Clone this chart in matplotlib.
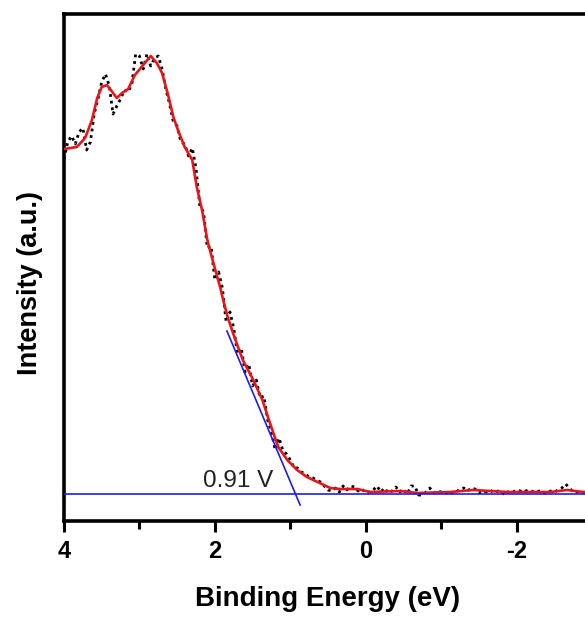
import numpy as np
import matplotlib
matplotlib.use('Agg')
import matplotlib.pyplot as plt
from matplotlib.ticker import MultipleLocator

plt.rcParams['font.family'] = ['Liberation Sans', 'DejaVu Sans']
plt.rcParams['axes.unicode_minus'] = False

# --------- data (binding energy in eV, intensity in arbitrary units) ---------
raw_energy = np.linspace(4.0, -2.95, 140)
raw_intensity = [
    335, 352, 358, 350, 362, 366, 344, 352, 380, 395,
    412, 420, 408, 380, 388, 395, 404, 402, 410, 440,
    438, 425, 440, 428, 436, 438, 425, 405, 390, 372,
    368, 352, 350, 338, 346, 326, 288, 282, 246, 248,
    214, 222, 206, 172, 182, 166, 140, 146, 122, 130,
    108, 114, 96, 98, 74, 62, 44, 56, 44, 40,
    34, 26, 26, 22, 20, 17, 16, 14, 12, 8,
    4, 3, 6, 2, 8, 4, 8, 7, 3, 5,
    1, 2, 4, 8, 2, 6, 1, 3, 7, 2,
    5, 0, 8, 8, -1, -1, 2, 6, 1, 3,
    2, 0, 3, 1, 2, 5, 6, 3, 6, 5,
    1, 3, 2, 4, 1, 3, 2, -1, 3, 2,
    4, 3, 2, 4, 3, 1, 3, 2, 0, 3,
    2, 4, 6, 10, 6, 2, 2, 3, 1, 2,
]

smooth_energy = [4.00, 3.83, 3.72, 3.63, 3.56, 3.50, 3.43, 3.36, 3.30, 3.23,
                 3.15, 3.06, 2.95, 2.85, 2.77, 2.70, 2.62, 2.55, 2.49, 2.40,
                 2.30, 2.24, 2.17, 2.10, 2.02, 1.93, 1.89, 1.83, 1.76, 1.63,
                 1.49, 1.37, 1.27, 1.16, 1.04, 0.91, 0.78, 0.61, 0.47, 0.34,
                 0.11, -0.06, -0.46, -0.68, -1.12, -1.42, -1.88, -2.45, -2.67, -2.88,
                 -2.95]
smooth_intensity = [345, 347, 356, 374, 396, 407, 409, 402, 396, 401,
                    405, 419, 429, 438, 431, 421, 399, 377, 364, 347,
                    334, 307, 284, 254, 231, 207, 194, 177, 161, 134,
                    114, 94, 71, 47, 34, 24, 17, 11, 6, 5,
                    5, 2, 3, 1, 2, 4, 2, 2, 4, 2,
                    2]

# linear fit of the leading edge and the background level
tangent_energy = [1.84, 0.87]
tangent_intensity = [163, -11]
baseline_level = 0
onset_label = '0.91 V'

# --------- figure ---------
fig = plt.figure(figsize=(5.85, 6.17), dpi=100)
ax = fig.add_axes([64 / 585, 96 / 617, 528 / 585, 507 / 617])

ax.plot(raw_energy, raw_intensity, color='black', linestyle=(0, (1, 1.4)),
        linewidth=2.0, zorder=2)
ax.plot(smooth_energy, smooth_intensity, color='#e8161b', linewidth=1.9, zorder=3)
ax.axhline(baseline_level, color='#1c1cf0', linewidth=1.2, zorder=4)
ax.plot(tangent_energy, tangent_intensity, color='#1c1cf0', linewidth=1.2, zorder=4)
ax.text(2.16, 7, onset_label, ha='left', va='baseline', fontsize=17.5, color='#222222')

ax.set_xlim(4, -3)
ax.set_ylim(-27, 480)
ax.xaxis.set_major_locator(MultipleLocator(2))
ax.xaxis.set_minor_locator(MultipleLocator(1))
ax.set_yticks([])

for side in ax.spines.values():
    side.set_linewidth(2.6)
ax.tick_params(axis='x', which='major', direction='out', length=8, width=2.2,
               labelsize=17, pad=6)
ax.tick_params(axis='x', which='minor', direction='out', length=5.5, width=2.2)
for lab in ax.get_xticklabels():
    lab.set_fontweight('bold')

ax.set_xlabel('Binding Energy (eV)', fontsize=20, fontweight='bold', labelpad=16)
ax.set_ylabel('Intensity (a.u.)', fontsize=19.5, fontweight='bold')
ax.yaxis.set_label_coords(-0.04, 0.469)

fig.savefig('out.png', dpi=100)
